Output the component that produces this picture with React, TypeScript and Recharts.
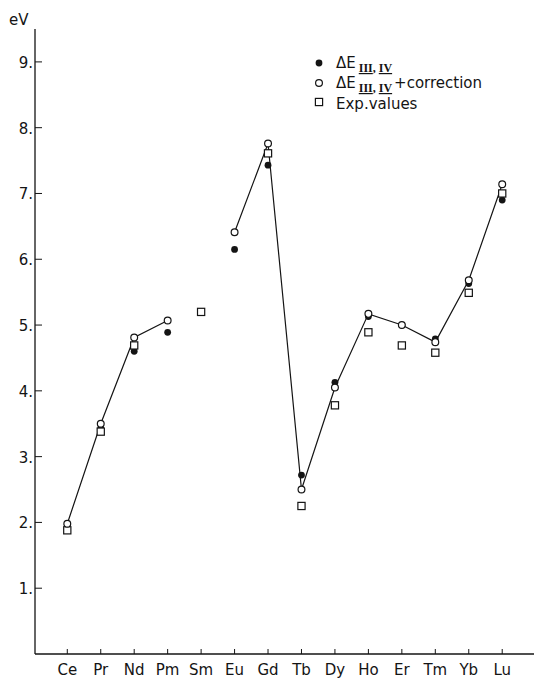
import { ComposedChart, Line, XAxis, YAxis } from "recharts";

// lanthanides along the x axis
const elements = ["Ce", "Pr", "Nd", "Pm", "Sm", "Eu", "Gd", "Tb", "Dy", "Ho", "Er", "Tm", "Yb", "Lu"];
// ΔE III,IV (filled dots)
const deltaE = [1.97, 3.43, 4.6, 4.89, null, 6.15, 7.43, 2.72, 4.13, 5.13, 5.0, 4.79, 5.63, 6.9];
// ΔE III,IV + correction (open circles, joined by the line)
const corrected = [1.98, 3.5, 4.81, 5.07, null, 6.41, 7.76, 2.5, 4.05, 5.17, 5.0, 4.74, 5.68, 7.14];
// experimental values (squares)
const expValues = [1.88, 3.38, 4.69, null, 5.2, null, 7.61, 2.25, 3.78, 4.89, 4.69, 4.58, 5.49, 7.0];

const yTicks = [1, 2, 3, 4, 5, 6, 7, 8, 9];
const xTicks = elements.map((_, i) => i + 1);

const data = elements.map((el, i) => ({
  x: i + 1,
  el,
  deltaE: deltaE[i],
  corrected: corrected[i],
  exp: expValues[i],
}));

const INK = "#141414";
const FONT = "'DejaVu Sans', sans-serif";

const LeftTick = (p: any) => (
  <g>
    <line x1={p.x} x2={p.x + 7} y1={p.y} y2={p.y} stroke={INK} strokeWidth={1} />
    <text x={p.x - 2} y={p.y} dy={6} textAnchor="end" fontFamily={FONT} fontSize={15} fill={INK}>
      {p.payload.value}.
    </text>
  </g>
);

const RightTick = (p: any) => (
  <line x1={p.x - 6} x2={p.x} y1={p.y} y2={p.y} stroke={INK} strokeWidth={1} />
);

const BottomTick = (p: any) => (
  <g>
    <line x1={p.x} x2={p.x} y1={p.y} y2={p.y - 5} stroke={INK} strokeWidth={1} />
    <text x={p.x} y={p.y + 21} textAnchor="middle" fontFamily={FONT} fontSize={15} fill={INK}>
      {elements[p.payload.value - 1]}
    </text>
  </g>
);

const FilledDot = (p: any) =>
  p.value == null || p.cy == null ? <g key={p.index} /> : (
    <circle key={p.index} cx={p.cx} cy={p.cy} r={3.4} fill={INK} />
  );

const OpenDot = (p: any) =>
  p.value == null || p.cy == null ? <g key={p.index} /> : (
    <circle key={p.index} cx={p.cx} cy={p.cy} r={3.4} fill="#fff" stroke={INK} strokeWidth={1.2} />
  );

const SquareDot = (p: any) =>
  p.value == null || p.cy == null ? <g key={p.index} /> : (
    <rect key={p.index} x={p.cx - 3.6} y={p.cy - 3.6} width={7.2} height={7.2} fill="#fff" stroke={INK} strokeWidth={1.2} />
  );

const Sub = () => (
  <>
    <tspan dx={3} dy={4} fontFamily="'Liberation Serif', serif" fontWeight="bold" fontSize={12} textDecoration="underline">
      III
    </tspan>
    <tspan fontFamily="'Liberation Serif', serif" fontWeight="bold" fontSize={12}>, </tspan>
    <tspan fontFamily="'Liberation Serif', serif" fontWeight="bold" fontSize={12} textDecoration="underline">
      IV
    </tspan>
  </>
);

export default function App() {
  return (
    <div style={{ position: "absolute", left: 0, top: 0, width: 534, height: 679, background: "#fff" }}>
      <ComposedChart width={534} height={679} data={data} margin={{ top: 29, right: 0, bottom: 0, left: 0 }}>
        <XAxis
          dataKey="x"
          type="number"
          domain={[0.035, 14.95]}
          ticks={xTicks}
          height={25}
          axisLine={{ stroke: INK, strokeWidth: 1.3 }}
          tickLine={false}
          tickSize={0}
          tickMargin={0}
          tick={BottomTick}
          allowDataOverflow
        />
        <XAxis
          xAxisId="t"
          orientation="top"
          dataKey="x"
          type="number"
          domain={[0.035, 14.95]}
          height={0}
          tick={false}
          tickLine={false}
          axisLine={{ stroke: INK, strokeWidth: 1.3 }}
        />
        <YAxis
          type="number"
          domain={[0, 9.5]}
          ticks={yTicks}
          width={35}
          axisLine={{ stroke: INK, strokeWidth: 1.3 }}
          tickLine={false}
          tickSize={0}
          tickMargin={0}
          tick={LeftTick}
          allowDataOverflow
        />
        <YAxis
          yAxisId="r"
          orientation="right"
          type="number"
          domain={[0, 9.5]}
          ticks={yTicks}
          width={0}
          axisLine={false}
          tickLine={false}
          tickSize={0}
          tickMargin={0}
          tick={RightTick}
        />
        <Line dataKey="deltaE" stroke="none" dot={FilledDot} activeDot={false} isAnimationActive={false} />
        <Line dataKey="exp" stroke="none" dot={SquareDot} activeDot={false} isAnimationActive={false} />
        <Line
          dataKey="corrected"
          stroke={INK}
          strokeWidth={1.2}
          connectNulls={false}
          dot={OpenDot}
          activeDot={false}
          isAnimationActive={false}
        />
      </ComposedChart>
      <svg width={534} height={679} style={{ position: "absolute", left: 0, top: 0, pointerEvents: "none" }}>
        <text x={9} y={25} fontFamily={FONT} fontSize={15} fill={INK}>eV</text>
        <circle cx={319} cy={63} r={3.4} fill={INK} />
        <circle cx={319} cy={83} r={3.4} fill="#fff" stroke={INK} strokeWidth={1.2} />
        <rect x={315.4} y={98.4} width={7.2} height={7.2} fill="#fff" stroke={INK} strokeWidth={1.2} />
        <text x={336} y={68} fontFamily={FONT} fontSize={15} fill={INK}>
          ΔE<Sub />
        </text>
        <text x={336} y={88} fontFamily={FONT} fontSize={15} fill={INK}>
          ΔE<Sub />
          <tspan dx={2} dy={-4} fontFamily={FONT} fontSize={15}>+correction</tspan>
        </text>
        <text x={336} y={109} fontFamily={FONT} fontSize={15} fill={INK}>Exp.values</text>
      </svg>
    </div>
  );
}
